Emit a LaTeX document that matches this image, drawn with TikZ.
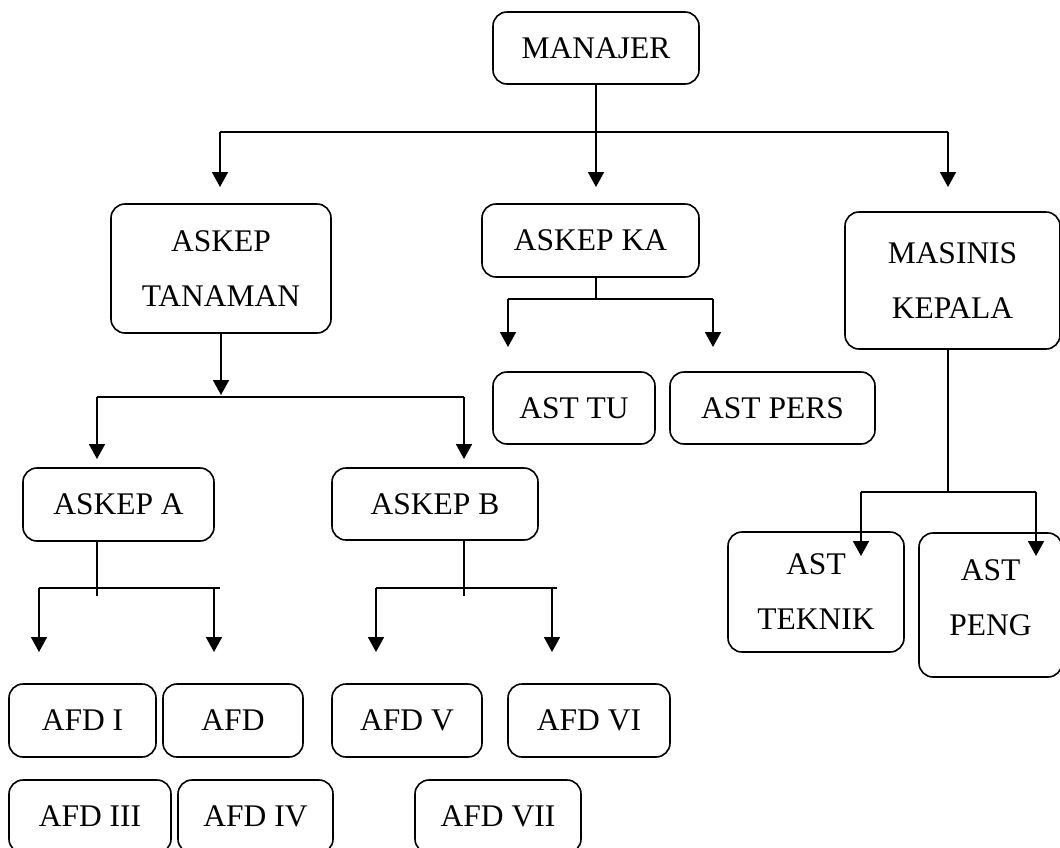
\documentclass[tikz,border=0pt]{standalone}
\usepackage{fontspec}
\setmainfont{Liberation Serif}
\usetikzlibrary{arrows.meta}
\tikzset{
  box/.style={draw, line width=1.6pt, rounded corners=14pt, inner sep=0pt, align=center,
    font=\fontsize{31.5}{55}\selectfont},
  conn/.style={line width=1.8pt},
  arr/.style={conn, -{Triangle[width=16pt,length=15pt]}}
}
\begin{document}
\begin{tikzpicture}[x=1pt,y=-1pt]
\useasboundingbox (0,0) rectangle (1060,847);
% nodes
\node[box, minimum width=206pt, minimum height=72pt] (man) at (596,48) {MANAJER};
\node[box, minimum width=220pt, minimum height=129pt] (tan) at (221,268.5) {ASKEP\\TANAMAN};
\node[box, minimum width=217pt, minimum height=73pt] (ka) at (590.5,240.5) {ASKEP KA};
\node[box, minimum width=215pt, minimum height=137pt] (mas) at (952.5,280.5) {MASINIS\\KEPALA};
\node[box, minimum width=162pt, minimum height=72pt] (tu) at (574,408) {AST TU};
\node[box, minimum width=205pt, minimum height=72pt] (pers) at (772.5,408) {AST PERS};
\node[box, minimum width=191pt, minimum height=73pt] (aa) at (118.5,504.5) {ASKEP A};
\node[box, minimum width=206pt, minimum height=72pt] (ab) at (435,504) {ASKEP B};
\node[box, minimum width=176pt, minimum height=120pt] (tek) at (816,592) {AST\\TEKNIK};
\node[box, minimum width=143pt, minimum height=144pt, text depth=14pt] (peng) at (990.5,605) {AST\\PENG};
\node[box, minimum width=147pt, minimum height=73pt] (a1) at (82.5,720.5) {AFD I};
\node[box, minimum width=140pt, minimum height=73pt] (a2) at (233,720.5) {AFD};
\node[box, minimum width=150pt, minimum height=73pt] (a5) at (407,720.5) {AFD V};
\node[box, minimum width=162pt, minimum height=73pt] (a6) at (589,720.5) {AFD VI};
\node[box, minimum width=162pt, minimum height=73pt] (a3) at (90,816.5) {AFD III};
\node[box, minimum width=155pt, minimum height=73pt] (a4) at (255.5,816.5) {AFD IV};
\node[box, minimum width=166pt, minimum height=73pt] (a7) at (498,816.5) {AFD VII};
% junction coordinates
\coordinate (h1L) at (220,132);
\coordinate (h1R) at (948,132);
\coordinate (t1L) at (220,187);
\coordinate (t1M) at (596,187);
\coordinate (t1R) at (948,187);
\coordinate (tT) at (221,395);
\coordinate (h2L) at (97,397);
\coordinate (h2R) at (464,397);
\coordinate (t2L) at (97,459);
\coordinate (t2R) at (464,459);
\coordinate (kaJ) at (596,299);
\coordinate (h3L) at (508,299);
\coordinate (h3R) at (713,299);
\coordinate (t3L) at (508,347);
\coordinate (t3R) at (713,347);
\coordinate (aaJ) at (97,596);
\coordinate (h4L) at (39,588);
\coordinate (h4R) at (220,588);
\coordinate (v4R) at (214,588);
\coordinate (t4L) at (39,652);
\coordinate (t4R) at (214,652);
\coordinate (abJ) at (464,596);
\coordinate (h5L) at (376,588);
\coordinate (h5R) at (557,588);
\coordinate (v5R) at (552,588);
\coordinate (t5L) at (376,652);
\coordinate (t5R) at (552,652);
\coordinate (masJ) at (948,492);
\coordinate (h6L) at (861,492);
\coordinate (h6R) at (1036,492);
\coordinate (t6L) at (861,556);
\coordinate (t6R) at (1036,556);
% connectors: manajer
\draw[conn] (h1L) -- (h1R);
\draw[arr] (man.south) -- (t1M);
\draw[arr] (h1L) -- (t1L);
\draw[arr] (h1R) -- (t1R);
% askep tanaman
\draw[arr] (tan.south) -- (tT);
\draw[conn] (h2L) -- (h2R);
\draw[arr] (h2L) -- (t2L);
\draw[arr] (h2R) -- (t2R);
% askep ka
\draw[conn] (ka.south -| kaJ) -- (kaJ);
\draw[conn] (h3L) -- (h3R);
\draw[arr] (h3L) -- (t3L);
\draw[arr] (h3R) -- (t3R);
% askep a
\draw[conn] (aa.south -| aaJ) -- (aaJ);
\draw[conn] (h4L) -- (h4R);
\draw[arr] (h4L) -- (t4L);
\draw[arr] (v4R) -- (t4R);
% askep b
\draw[conn] (ab.south -| abJ) -- (abJ);
\draw[conn] (h5L) -- (h5R);
\draw[arr] (h5L) -- (t5L);
\draw[arr] (v5R) -- (t5R);
% masinis
\draw[conn] (mas.south -| masJ) -- (masJ);
\draw[conn] (h6L) -- (h6R);
\draw[arr] (h6L) -- (t6L);
\draw[arr] (h6R) -- (t6R);
\end{tikzpicture}
\end{document}
